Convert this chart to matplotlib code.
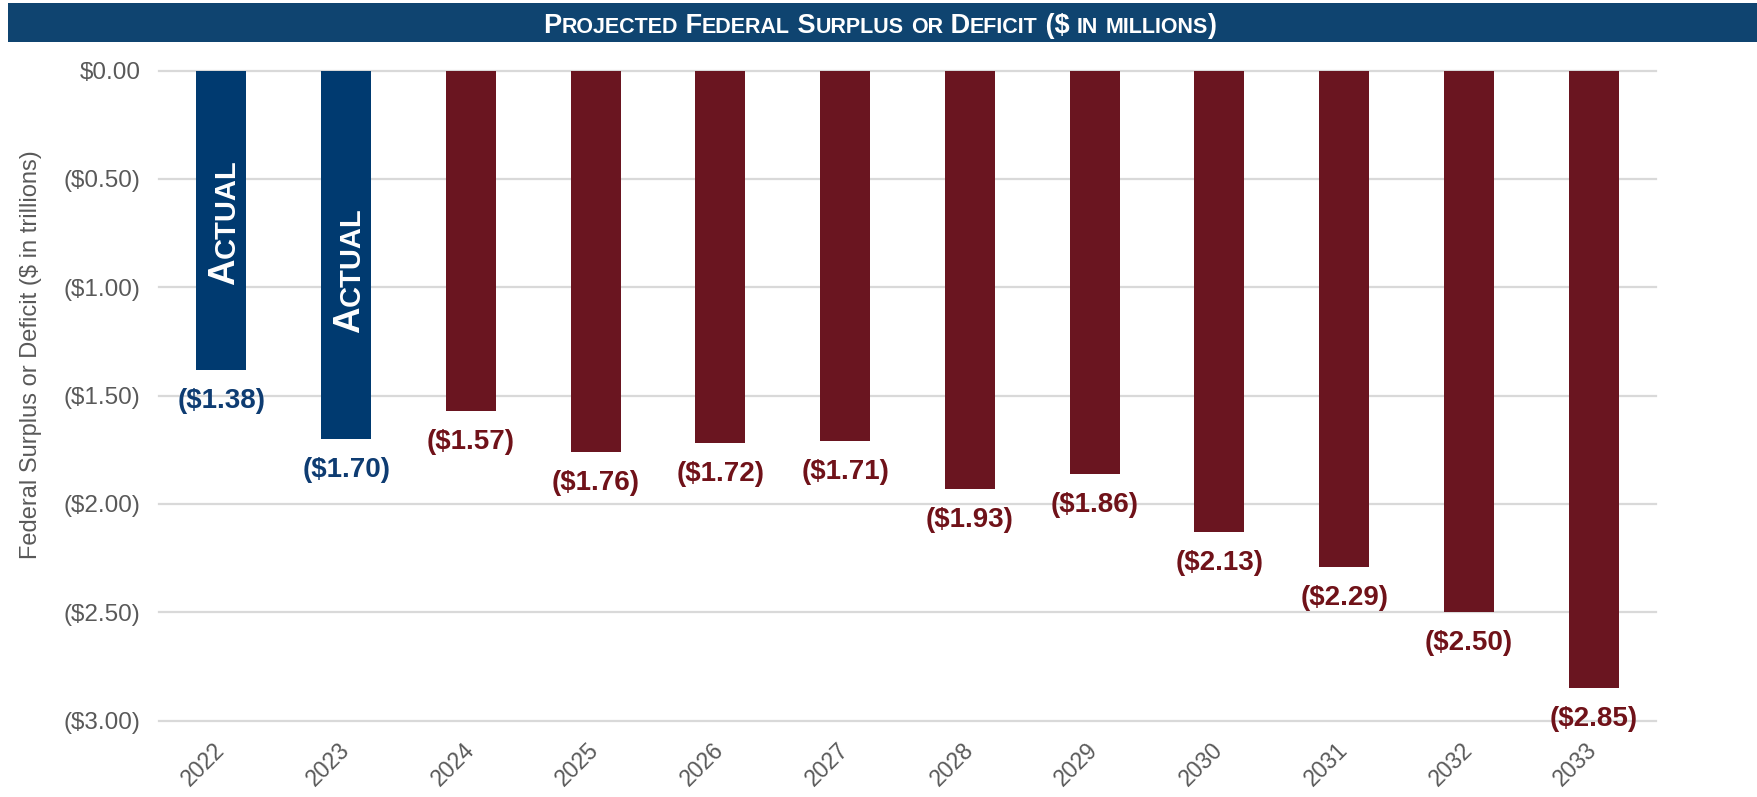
import matplotlib
matplotlib.use("Agg")
import matplotlib.pyplot as plt
from matplotlib.font_manager import FontProperties, findfont
from matplotlib.patches import Rectangle

# ---- data -------------------------------------------------------------
years = ["2022", "2023", "2024", "2025", "2026", "2027",
         "2028", "2029", "2030", "2031", "2032", "2033"]
deficits = [-1.38, -1.70, -1.57, -1.76, -1.72, -1.71,
            -1.93, -1.86, -2.13, -2.29, -2.50, -2.85]
is_actual = [True, True, False, False, False, False,
             False, False, False, False, False, False]
y_ticks = [0.0, -0.5, -1.0, -1.5, -2.0, -2.5, -3.0]

title_text = "Projected Federal Surplus or Deficit ($ in millions)"
ylabel_text = "Federal Surplus or Deficit ($ in trillions)"
actual_tag = "Actual"
# vertical centre (in data units) of the "Actual" tag inside each actual bar
actual_tag_y = [-0.70, -0.92]

# ---- style ------------------------------------------------------------
BLUE = "#003A70"
BLUE_TXT = "#0E3C72"
RED = "#6A1520"
RED_TXT = "#701219"
HEADER = "#0F4470"
GRID = "#D9D9D9"
GRAY = "#595959"


def pick_font(candidates):
    for fam in candidates:
        try:
            findfont(FontProperties(family=fam), fallback_to_default=False)
            return fam
        except ValueError:
            continue
    return "DejaVu Sans"


BASE = pick_font(["Liberation Sans", "Arial", "DejaVu Sans"])
plt.rcParams["font.family"] = [BASE, "DejaVu Sans"]

W, H, DPI = 1757, 797, 100
fig = plt.figure(figsize=(W / DPI, H / DPI), dpi=DPI)
fig.patch.set_facecolor("white")

# plot area
left_px, right_px, top_px, bot_px = 159, 1656, 70.6, 720.5
ax = fig.add_axes([left_px / W, 1 - bot_px / H,
                   (right_px - left_px) / W, (bot_px - top_px) / H])

x = list(range(len(years)))
colors = [BLUE if a else RED for a in is_actual]
ax.bar(x, deficits, width=0.4, color=colors, zorder=2)

for yt in y_ticks:
    ax.axhline(yt, color=GRID, lw=1.6, zorder=1, clip_on=False)

ax.set_xlim(-0.5, len(years) - 0.5)
ax.set_ylim(-3.0, 0.0)
for s in ax.spines.values():
    s.set_visible(False)


def money(v):
    return "$%.2f" % v if v >= 0 else "($%.2f)" % abs(v)


ax.set_yticks(y_ticks)
ax.set_yticklabels([money(v) for v in y_ticks])
ax.tick_params(axis="y", length=0, pad=13.5, labelsize=17.5, labelcolor=GRAY)
ax.set_xticks(x)
ax.set_xticklabels(years, rotation=45, ha="right", va="center",
                   rotation_mode="anchor")
ax.tick_params(axis="x", length=0, pad=19, labelsize=16.5, labelcolor=GRAY)

# value labels beneath each bar
for xi, v, a in zip(x, deficits, is_actual):
    ax.annotate(money(v), (xi, v), xytext=(0, -22.3), textcoords="offset points",
                ha="center", va="center", fontsize=20, fontweight="bold",
                color=BLUE_TXT if a else RED_TXT, annotation_clip=False)

# y-axis title
fig.text(31 / W, 1 - 355 / H, ylabel_text, rotation=90, ha="center", va="center",
         fontsize=17, color=GRAY)

# header band
fig.patches.append(Rectangle((8 / W, 1 - 41.5 / H), 1 - 8 / W, 38.1 / H,
                             transform=fig.transFigure, facecolor=HEADER,
                             edgecolor="none", zorder=0))

renderer = fig.canvas.get_renderer()


def runs_of(s):
    runs = []
    for ch in s:
        small = ch.islower()
        c = ch.upper()
        if runs and runs[-1][1] == small:
            runs[-1][0] += c
        else:
            runs.append([c, small])
    return runs


def advance(s, fp):
    w1, _, _ = renderer.get_text_width_height_descent(s + "I", fp, ismath=False)
    w2, _, _ = renderer.get_text_width_height_descent("I", fp, ismath=False)
    return w1 - w2


def small_caps(s, cx, cy, big, small, family, color, vertical=False):
    """Draw s in small capitals centred on pixel (cx, cy) along its run;
    the other coordinate is the baseline."""
    runs = runs_of(s)
    props = []
    total = 0.0
    for txt, is_small in runs:
        fp = FontProperties(family=family, weight="bold",
                            size=small if is_small else big)
        a = advance(txt, fp)
        props.append((txt, fp, a))
        total += a
    pos = (cy if vertical else cx) - total / 2
    for txt, fp, a in props:
        if vertical:
            fig.text(cx / W, pos / H, txt, fontproperties=fp, color=color,
                     rotation=90, rotation_mode="anchor", ha="left",
                     va="baseline")
        else:
            fig.text(pos / W, cy / H, txt, fontproperties=fp, color=color,
                     ha="left", va="baseline")
        pos += a


# title in the header band
small_caps(title_text, 880, H - 33, 19.5, 15.5, BASE, "white")

# "Actual" tags inside the historical bars
for xi, ty in zip([i for i, a in enumerate(is_actual) if a], actual_tag_y):
    px, py = ax.transData.transform((xi, ty))
    cap = 26.5 * DPI / 72 * 0.716
    small_caps(actual_tag, px + cap / 2, py, 26.5, 21, BASE, "white", vertical=True)

fig.savefig("out.png", dpi=DPI, facecolor="white")
